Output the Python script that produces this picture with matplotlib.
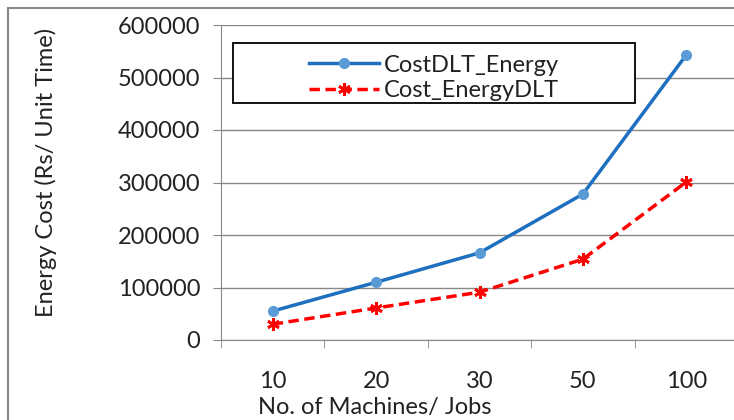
import matplotlib
matplotlib.use("Agg")
from matplotlib import pyplot as plt
from matplotlib.patches import Rectangle

plt.rcParams['font.family'] = ['Lato', 'DejaVu Sans']

CATEGORIES = ["10", "20", "30", "50", "100"]
COST_DLT_ENERGY = [55000, 110000, 166000, 278000, 543000]
COST_ENERGY_DLT = [30000, 61000, 91000, 154000, 301000]
Y_TICKS = [0, 100000, 200000, 300000, 400000, 500000, 600000]

W, H = 734, 420
FS = 17
TXT = "#222222"
GRID = "#888888"

fig = plt.figure(figsize=(W / 100, H / 100), dpi=100)

# outer chart frame (cut off at right and bottom in the original)
fig.patches.append(Rectangle((8 / W, -0.1), 2, (H - 8) / H + 0.1, transform=fig.transFigure,
                             fill=False, edgecolor=GRID, linewidth=1.5))

ax = fig.add_axes([221 / W, (H - 340) / H, 517 / W, 315 / H])
x = list(range(len(CATEGORIES)))

ax.plot(x, COST_DLT_ENERGY, color="#1F6FC0", linewidth=2.5, marker="o", markersize=7,
        markerfacecolor="#5B9BD5", markeredgecolor="#5B9BD5", label="CostDLT_Energy")
ax.plot(x, COST_ENERGY_DLT, color="#FF0000", linewidth=2.5, linestyle=(0, (3, 1.6)),
        marker=(6, 2, 0), markersize=9, markeredgewidth=2, markeredgecolor="#FF0000",
        label="Cost_EnergyDLT")

ax.set_xlim(-0.5, len(CATEGORIES) - 0.5)
ax.set_ylim(0, 600000)
ax.set_yticks(Y_TICKS)
ax.set_yticklabels([str(v) for v in Y_TICKS])
ax.set_xticks(x)
ax.set_xticklabels(CATEGORIES)
ax.set_xticks([i - 0.5 for i in range(len(CATEGORIES) + 1)], minor=True)
ax.tick_params(axis="x", which="major", length=0, pad=22, labelsize=FS, labelcolor=TXT)
ax.tick_params(axis="x", which="minor", length=6, color=GRID, direction="out")
ax.tick_params(axis="y", length=6, color=GRID, labelsize=FS, labelcolor=TXT, pad=9)

ax.grid(axis="y", color=GRID, linewidth=1)
ax.set_axisbelow(True)
for s in ["top", "right"]:
    ax.spines[s].set_visible(False)
ax.spines["left"].set_color(GRID)
ax.spines["bottom"].set_color(GRID)

ax.set_ylabel("Energy Cost (Rs/ Unit Time)", fontsize=FS, color=TXT)
ax.yaxis.set_label_coords((57 - 221) / 517, (340 - 172) / 315)
ax.set_xlabel("No. of Machines/ Jobs", fontsize=FS, color=TXT)
ax.xaxis.set_label_coords((375 - 221) / 517, -(397 - 340) / 315)

# legend box drawn separately, entries centred inside it
box = Rectangle((12 / 517, (340 - 103) / 315), 402 / 517, 60 / 315, transform=ax.transAxes,
                fill=True, facecolor="white", edgecolor="black", linewidth=1.3, zorder=5)
ax.add_patch(box)
leg = ax.legend(loc="center", bbox_to_anchor=(213 / 517, (340 - 78) / 315), fontsize=FS,
                frameon=False, borderpad=0, borderaxespad=0, labelspacing=0.2,
                handlelength=3.0, handletextpad=0.2)
leg.set_zorder(6)
for t in leg.get_texts():
    t.set_color(TXT)

fig.savefig("out.png", dpi=100)
